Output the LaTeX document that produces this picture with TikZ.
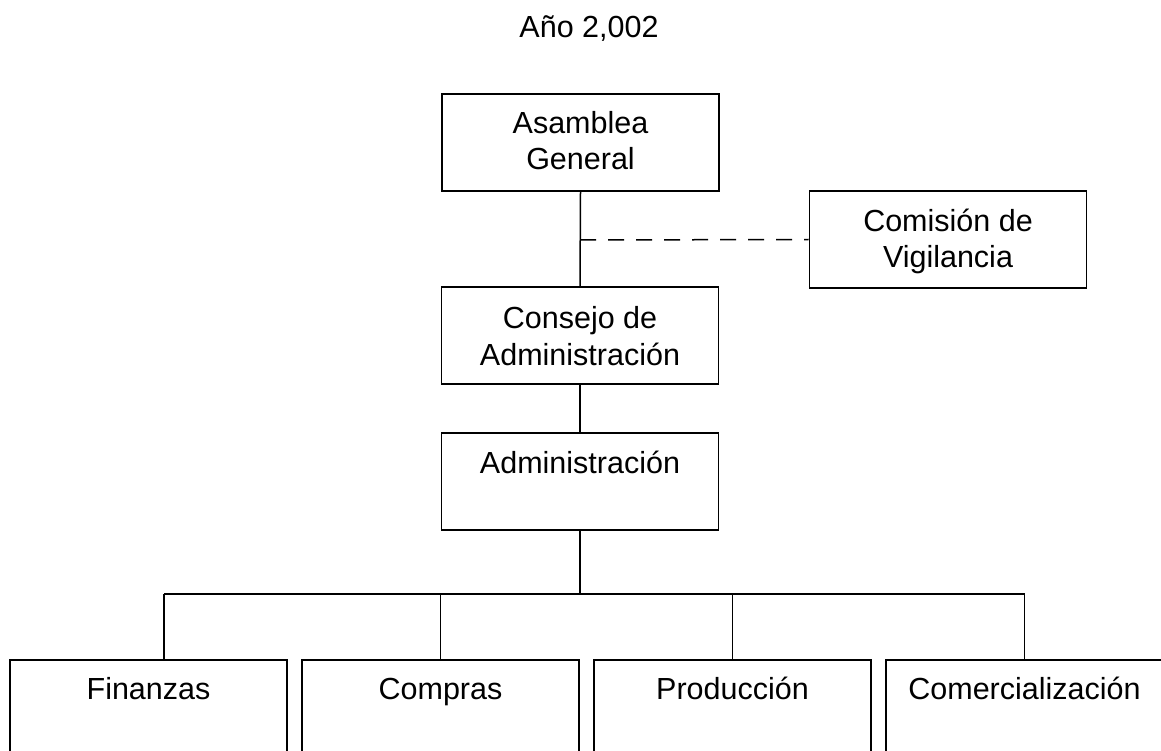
\documentclass[tikz,border=0pt]{standalone}
\usepackage{fontspec}
\setmainfont{Liberation Sans}
\usetikzlibrary{calc}
\begin{document}
\begin{tikzpicture}[x=1pt,y=-1pt,
  box/.style={draw=black,line width=1.8pt,minimum width=277pt,minimum height=97pt,inner sep=0pt,fill=white},
  lowbox/.style={draw=black,line width=1.8pt,minimum width=277pt,minimum height=140pt,inner sep=0pt,anchor=north},
  lbl/.style={anchor=base,inner sep=0pt,font=\fontsize{30.5}{35}\selectfont},
  conn/.style={line width=1.5pt},
  dashconn/.style={line width=1.5pt,dash pattern=on 16pt off 12pt}]
\useasboundingbox (0,0) rectangle (1161,751);
\clip (0,0) rectangle (1161,751);
\fill[white] (0,0) rectangle (1161,751);
% title
\node[lbl] (title) at (589,38) {Año 2,002};
% boxes
\node[box] (ag) at (580.5,142.5) {};
\node[box] (cv) at (948,239.5) {};
\node[box] (ca) at (580,335.5) {};
\node[box] (ad) at (580,481.5) {};
\node[lowbox] (fi) at (148.5,659) {};
\node[lowbox] (co) at (440.5,659) {};
\node[lowbox] (pr) at (732.5,659) {};
\node[lowbox] (cm) at (1024.5,659) {};
% texts
\node[lbl] (agt1) at (580.5,134) {Asamblea};
\node[lbl] (agt2) at (580.5,169.5) {General};
\node[lbl] (cvt1) at (948,232) {Comisión de};
\node[lbl] (cvt2) at (948,267) {Vigilancia};
\node[lbl] (cat1) at (580,328) {Consejo de};
\node[lbl] (cat2) at (580,365) {Administración};
\node[lbl] (adt) at (580,473) {Administración};
\node[lbl] (fit) at (148.5,699) {Finanzas};
\node[lbl] (cot) at (440.5,699) {Compras};
\node[lbl] (prt) at (732.5,699) {Producción};
\node[lbl] (cmt) at (1024.5,699) {Comercialización};
% connectors
\coordinate (dashstart) at (580,240);
\coordinate (bus) at (580,594);
\coordinate (busL) at (164,594);
\coordinate (busR) at (1024.5,594);
\draw[conn] (ag.south) -- (ca.north);
\draw[dashconn] (dashstart) -- (cv.west);
\draw[conn] (ca.south) -- (ad.north);
\draw[conn] (ad.south) -- (bus);
\draw[conn] (busL) -- (busR);
\draw[conn] (busL) -- (busL |- fi.north);
\draw[conn] (co.north |- bus) -- (co.north);
\draw[conn] (pr.north |- bus) -- (pr.north);
\draw[conn] (busR) -- (cm.north);
\end{tikzpicture}
\end{document}
